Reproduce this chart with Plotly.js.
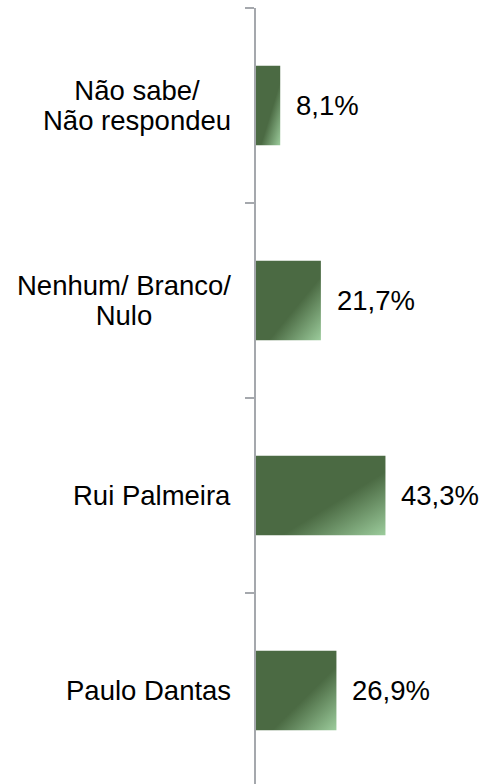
<!DOCTYPE html>
<html>
<head>
<meta charset="utf-8">
<script src="https://cdn.plot.ly/plotly-3.0.1.min.js"></script>
<style>
html, body { margin: 0; padding: 0; overflow: hidden; background: #fff; }
#chart { width: 487px; height: 788px; }
</style>
</head>
<body>
<div id="chart"></div>
<script>
// Categories bottom-to-top
const categories = ["Paulo Dantas", "Rui Palmeira", "Nenhum/ Branco/<br>Nulo", "Não sabe/<br>Não respondeu"];
const values = [26.9, 43.3, 21.7, 8.1];
const valueLabels = ["26,9%", "43,3%", "21,7%", "8,1%"];

const FONT = "Liberation Sans, Arial, Helvetica, sans-serif";
const BIG = 27.5;

const annotations = [];
categories.forEach((c, i) => {
  const txt = c.split("<br>").map(s => '<span style="font-size:' + BIG + 'px">' + s + '</span>').join("<br>");
  annotations.push({
    x: 0, xref: "paper", y: c, yref: "y",
    xanchor: "right", yanchor: "middle", xshift: -23,
    align: "center", showarrow: false, text: txt,
    font: { family: FONT, size: 23, color: "#000" }
  });
  annotations.push({
    x: values[i], xref: "x", y: c, yref: "y",
    xanchor: "left", yanchor: "middle", xshift: 14,
    showarrow: false, text: valueLabels[i],
    font: { family: FONT, size: BIG, color: "#000" }
  });
});

const trace = {
  type: "bar", orientation: "h",
  x: values, y: categories,
  marker: { color: "#4b6a43", line: { width: 0 } },
  hoverinfo: "none"
};

const layout = {
  width: 487, height: 788,
  margin: { l: 256, r: 0, t: 8, b: 0 },
  paper_bgcolor: "#fff", plot_bgcolor: "#fff",
  showlegend: false,
  bargap: 0.593,
  xaxis: { range: [0, 77.26], visible: false, showgrid: false, zeroline: false },
  yaxis: {
    type: "category", showline: true, linecolor: "#a5a8ad", linewidth: 2,
    ticks: "outside", tickson: "boundaries", ticklen: 9, tickwidth: 2, tickcolor: "#a5a8ad",
    showticklabels: false, showgrid: false, zeroline: false
  },
  annotations: annotations
};

Plotly.newPlot("chart", [trace], layout, { staticPlot: true, displayModeBar: false }).then(gd => {
  const svg = gd.querySelector("svg.main-svg");
  let defs = svg.querySelector("defs");
  const ns = "http://www.w3.org/2000/svg";
  if (!defs) { defs = document.createElementNS(ns, "defs"); svg.insertBefore(defs, svg.firstChild); }
  const g = document.createElementNS(ns, "linearGradient");
  g.setAttribute("id", "barGrad");
  g.setAttribute("x1", "0"); g.setAttribute("y1", "0");
  g.setAttribute("x2", "1"); g.setAttribute("y2", "1");
  [["0", "#4b6a43"], ["0.6", "#4b6a43"], ["1", "#9ccc9c"]].forEach(([o, c]) => {
    const s = document.createElementNS(ns, "stop");
    s.setAttribute("offset", o); s.setAttribute("stop-color", c);
    g.appendChild(s);
  });
  defs.appendChild(g);
  gd.querySelectorAll(".bars .point path").forEach(p => { p.style.fill = "url(#barGrad)"; });
});
</script>
</body>
</html>
